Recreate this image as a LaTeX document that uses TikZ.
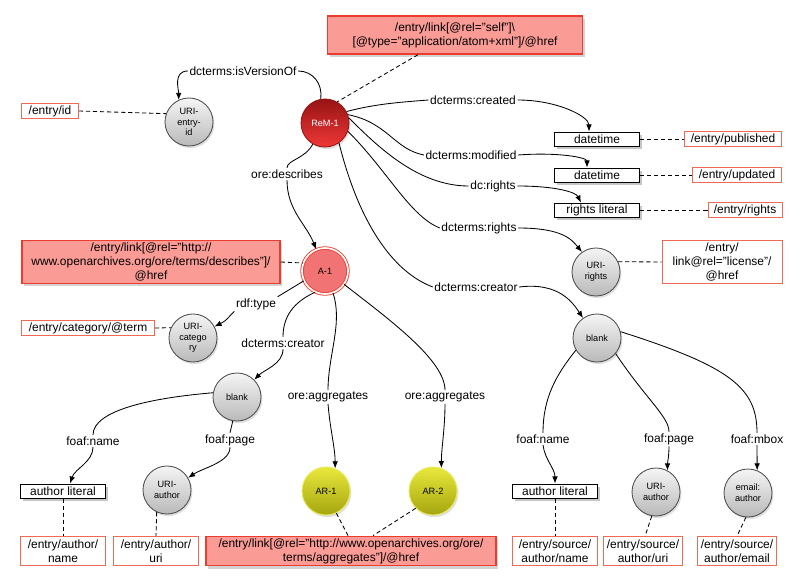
\documentclass[tikz,border=0pt]{standalone}
\usepackage{fontspec}
\setmainfont{Liberation Sans}
\usepackage{tikz}
\usepackage{xcolor}
\usetikzlibrary{arrows.meta,shadows}
\definecolor{xpathred}{RGB}{235,60,45}
\definecolor{xpathpink}{RGB}{250,155,150}
\definecolor{xpathline}{RGB}{240,105,85}
\definecolor{remdark}{RGB}{150,20,20}
\definecolor{remlight}{RGB}{240,55,55}
\definecolor{aggpink}{RGB}{242,115,115}
\definecolor{aryellow}{RGB}{232,232,60}
\definecolor{arolive}{RGB}{165,165,15}

\tikzset{
  res/.style={circle, minimum size=1.2cm, inner sep=0pt, align=center, line width=0.6pt,
    font=\fontsize{6.5}{7.5}\selectfont},
  uri/.style={res, top color=gray!8, bottom color=gray!55, draw=gray!60!black,
    drop shadow={opacity=0.25, shadow xshift=1pt, shadow yshift=-1.5pt}},
  rem/.style={res, top color=remdark, bottom color=remlight, draw=remdark, text=white,
    drop shadow={opacity=0.25, shadow xshift=1pt, shadow yshift=-1.5pt}},
  agg/.style={res, minimum size=1.15cm, fill=aggpink, draw=xpathred, double=white, double distance=1.2pt},
  ar/.style={res, top color=aryellow, bottom color=arolive, draw=aryellow!85!white,
    drop shadow={opacity=0.25, shadow xshift=1pt, shadow yshift=-1.5pt}},
  literal/.style={draw, fill=white, line width=0.7pt, minimum width=2.125cm, minimum height=0.35cm,
    inner sep=1pt, font=\fontsize{8.5}{10}\selectfont,
    drop shadow={opacity=0.45, shadow xshift=1.5pt, shadow yshift=-2pt}},
  xpath/.style={draw=xpathline, fill=white, line width=0.6pt, inner sep=1.5pt, minimum height=0.375cm,
    align=center, font=\fontsize{8.5}{10}\selectfont},
  xpathmain/.style={xpath, draw=xpathred, fill=xpathpink, line width=1pt,
    drop shadow={opacity=0.35, shadow xshift=1.5pt, shadow yshift=-2pt}},
  prop/.style={fill=white, inner sep=1pt, font=\fontsize{8.5}{10}\selectfont},
  relarrow/.style={line width=0.6pt, -{Latex[length=5pt,width=4pt]}},
  plainarc/.style={line width=0.6pt},
  maplink/.style={line width=0.6pt, dash pattern=on 3pt off 2pt}
}

\begin{document}
\begin{tikzpicture}[x=0.025cm, y=-0.025cm]
    \useasboundingbox (0,0) rectangle (800,577);

    \node[xpathmain, minimum width=6.375cm, minimum height=0.95cm] (selfbox) at (455,35)
      {/entry/link[@rel="self"]\textbackslash\\{[}@type="application/atom+xml"]/@href};
    \node[rem] (rem) at (325,123) {ReM-1};

    \node[uri] (uriid) at (189,122) {URI-\\entry-\\id};
    \node[xpath, minimum width=1.425cm] (idbox) at (50,111) {/entry/id};
    \node[prop] (lversion) at (243,71) {dcterms:isVersionOf};

    \node[prop] (lcreated) at (473,100) {dcterms:created};
    \node[literal] (dtone) at (597,139) {datetime};
    \node[xpath, minimum width=2.425cm] (published) at (733,139) {/entry/published};
    \node[prop] (lmodified) at (471,155) {dcterms:modified};
    \node[literal] (dttwo) at (597,175) {datetime};
    \node[xpath, minimum width=2.225cm] (updated) at (737,175) {/entry/updated};
    \node[prop] (ldcrights) at (493,186) {dc:rights};
    \node[literal] (rightslit) at (597,210) {rights literal};
    \node[xpath, minimum width=1.85cm] (rightsbox) at (745,210) {/entry/rights};
    \node[prop] (lrights) at (479,228) {dcterms:rights};
    \node[uri] (urirights) at (596,272) {URI-\\rights};
    \node[xpath, minimum width=3cm, minimum height=1.075cm] (licensebox) at (722,262)
      {/entry/\\link@rel="license"/\\@href};
    \node[prop] (lcreatorr) at (476,287) {dcterms:creator};
    \node[uri] (blankr) at (597,338) {blank};

    \node[prop] (lnamer) at (543,439) {foaf:name};
    \node[literal] (litr) at (555,491) {author literal};
    \node[xpath, minimum width=2.125cm, minimum height=0.725cm] (srcname) at (555,551)
      {/entry/source/\\author/name};
    \node[prop] (lpager) at (669,439) {foaf:page};
    \node[uri] (uriauthr) at (656,492) {URI-\\author};
    \node[xpath, minimum width=1.975cm, minimum height=0.725cm] (srcuri) at (643,551)
      {/entry/source/\\author/uri};
    \node[prop] (lmbox) at (757,439) {foaf:mbox};
    \node[uri] (email) at (748,493) {email:\\author};
    \node[xpath, minimum width=1.975cm, minimum height=0.725cm] (srcemail) at (737,551)
      {/entry/source/\\author/email};

    \node[prop] (ldescribes) at (287,174) {ore:describes};
    \node[agg] (aone) at (325,271) {A-1};
    \node[xpathmain, minimum width=6.45cm, minimum height=1.05cm] (describesbox) at (151,262)
      {/entry/link[@rel="http://\\www.openarchives.org/ore/terms/describes"]/\\@href};
    \node[prop] (ltype) at (256,304) {rdf:type};
    \node[uri] (uricat) at (193,338) {URI-\\catego\\ry};
    \node[xpath, minimum width=3.325cm] (catbox) at (88,328) {/entry/category/@term};
    \node[prop] (lcreatorl) at (283,343) {dcterms:creator};
    \node[uri] (blankl) at (237,397) {blank};
    \node[prop] (laggone) at (328,397) {ore:aggregates};
    \node[ar] (arone) at (326,491) {AR-1};
    \node[prop] (laggtwo) at (445,397) {ore:aggregates};
    \node[ar] (artwo) at (433,491) {AR-2};

    \node[prop] (lnamel) at (93,441) {foaf:name};
    \node[literal] (litl) at (63,491) {author literal};
    \node[xpath, minimum width=2.125cm, minimum height=0.725cm] (authname) at (63,551)
      {/entry/author/\\name};
    \node[prop] (lpagel) at (230,440) {foaf:page};
    \node[uri] (uriauthl) at (167,490) {URI-\\author};
    \node[xpath, minimum width=2.125cm, minimum height=0.725cm] (authuri) at (156,551)
      {/entry/author/\\uri};
    \node[xpathmain, minimum width=7.25cm, minimum height=0.725cm] (aggbox) at (351,551)
      {/entry/link[@rel="http://www.openarchives.org/ore/\\terms/aggregates"]/@href};

    % relations out of ReM-1
    \draw[plainarc] (rem.100) .. controls +(2,-15) and +(15,0) .. (lversion.east);
    \draw[relarrow] (lversion.west) .. controls +(-15,0) and +(0,-10) .. (uriid.115);
    \draw[plainarc] (rem.28) .. controls +(30,-8) and +(-25,2) .. (lcreated.west);
    \draw[relarrow] (lcreated.east) .. controls +(40,0) and +(0,-15) .. ([xshift=-0.2cm]dtone.north);
    \draw[plainarc] (rem.20) .. controls +(40,8) and +(-30,-6) .. (lmodified.west);
    \draw[relarrow] (lmodified.east) .. controls +(40,-3) and +(0,-10) .. ([xshift=-0.25cm]dttwo.north);
    \draw[plainarc] (rem.12) .. controls +(30,30) and +(-50,0) .. (ldcrights.west);
    \draw[relarrow] (ldcrights.east) .. controls +(40,0) and +(-5,-10) .. ([xshift=-0.4cm]rightslit.north);
    \draw[plainarc] (rem.-20) .. controls +(40,40) and +(-30,-12) .. (lrights.west);
    \draw[relarrow] (lrights.east) .. controls +(45,0) and +(-10,-12) .. (urirights.125);
    \draw[plainarc] (rem.-55) .. controls +(20,80) and +(-40,-15) .. (lcreatorr.west);
    \draw[relarrow] (lcreatorr.east) .. controls +(40,-5) and +(-10,-15) .. (blankr.125);
    \draw[plainarc] (rem.-120) .. controls +(-8,15) and +(0,-8) .. (ldescribes.north);
    \draw[relarrow] (ldescribes.south) .. controls +(0,30) and +(-10,-25) .. (aone.112);

    % relations out of A-1
    \draw[plainarc] (aone.205) -- (ltype.north east);
    \draw[relarrow] (ltype.south west) .. controls +(-8,8) and +(12,-6) .. (uricat.28);
    \draw[plainarc] (aone.-115) .. controls +(-22,10) and +(0,-20) .. (lcreatorl.north);
    \draw[relarrow] (lcreatorl.south) .. controls +(0,15) and +(10,-10) .. (blankl.45);
    \draw[plainarc] (aone.-70) .. controls +(10,30) and +(0,-35) .. (laggone.north);
    \draw[relarrow] (laggone.south) .. controls +(2,25) and +(0,-20) .. (arone.68);
    \draw[plainarc] (aone.-35) .. controls +(45,35) and +(0,-30) .. (laggtwo.north);
    \draw[relarrow] (laggtwo.south) .. controls +(0,25) and +(0,-20) .. (artwo.70);

    % the two blank authors
    \draw[plainarc] (blankl.170) .. controls +(-60,5) and +(0,-25) .. (lnamel.north);
    \draw[relarrow] (lnamel.south) .. controls +(0,15) and +(5,-15) .. ([xshift=0.175cm]litl.north);
    \draw[plainarc] (blankl.-100) -- (lpagel.north);
    \draw[relarrow] (lpagel.south) .. controls +(0,15) and +(15,-10) .. (uriauthl.30);
    \draw[plainarc] (blankr.-150) .. controls +(-20,25) and +(0,-35) .. (lnamer.north);
    \draw[relarrow] (lnamer.south) .. controls +(2,15) and +(0,-15) .. (litr.north);
    \draw[plainarc] (blankr.-40) .. controls +(30,45) and +(0,-15) .. (lpager.north);
    \draw[relarrow] (lpager.south) .. controls +(0,10) and +(0,-8) .. (uriauthr.62);
    \draw[plainarc] (blankr.15) .. controls +(110,35) and +(0,-45) .. (lmbox.north);
    \draw[relarrow] (lmbox.south) -- (email.68);

    % mappings to the feed
    \draw[maplink] ([xshift=-0.925cm]selfbox.south) -- (rem.60);
    \draw[maplink] (idbox.east) -- (uriid.160);
    \draw[maplink] (dtone.east) -- (published.west);
    \draw[maplink] (dttwo.east) -- (updated.west);
    \draw[maplink] (rightslit.east) -- (rightsbox.west);
    \draw[maplink] (urirights.25) -- (licensebox.west);
    \draw[maplink] (describesbox.east) -- (aone.160);
    \draw[maplink] (catbox.east) -- (uricat.155);
    \draw[maplink] (litl.south) -- (authname.north);
    \draw[maplink] (uriauthl.-115) -- (authuri.north);
    \draw[maplink] (arone.-65) -- ([xshift=-0.075cm]aggbox.north);
    \draw[maplink] (artwo.-135) -- ([xshift=0.55cm]aggbox.north);
    \draw[maplink] (litr.south) -- (srcname.north);
    \draw[maplink] (uriauthr.-100) -- ([xshift=0.05cm]srcuri.north);
    \draw[maplink] (email.-95) -- (srcemail.north);
\end{tikzpicture}
\end{document}
